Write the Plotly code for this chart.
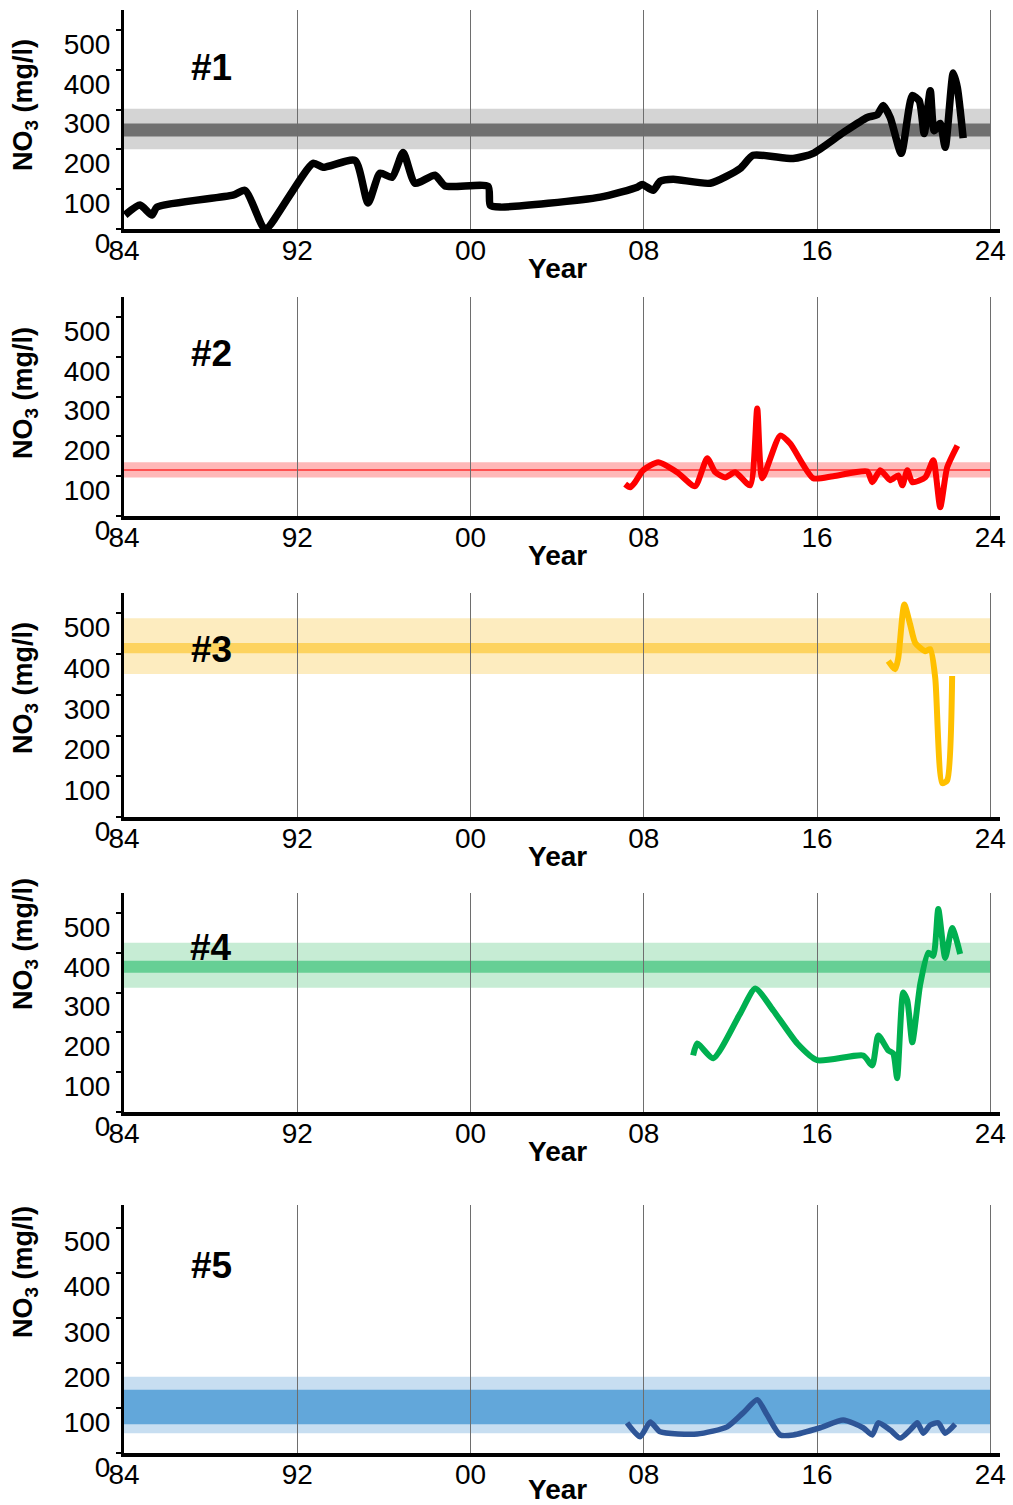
import plotly.graph_objects as go

# ---------------- data ----------------
x_tick_vals = [1984, 1992, 2000, 2008, 2016, 2024]
x_tick_text = ["84", "92", "00", "08", "16", "24"]
y_tick_vals = [0, 100, 200, 300, 400, 500]
y_tick_text = ["0", "100", "200", "300", "400", "500"]

years_1 = [1984.05, 1984.74, 1985.29, 1985.52, 1989.03, 1989.59, 1990.42, 1990.61,
           1992.73, 1993.19, 1994.67, 1995.27, 1995.82, 1996.38, 1996.89, 1997.44,
           1998.36, 1998.83, 2000.81, 2000.91, 2001.37, 2005.99, 2007.70, 2007.93,
           2008.43, 2008.76, 2009.36, 2011.07, 2012.45, 2013.05, 2014.90, 2015.82,
           2017.21, 2018.32, 2018.78, 2019.06, 2019.38, 2019.89, 2020.40, 2020.72,
           2020.95, 2021.23, 2021.41, 2021.69, 2021.92, 2022.29, 2022.48, 2022.75]
no3_1 = [35, 60, 35, 55, 85, 97, 5, 2,
         165, 155, 172, 65, 140, 130, 192, 115,
         135, 108, 107, 60, 55, 80, 105, 112,
         97, 120, 125, 115, 152, 185, 177, 190,
         242, 280, 287, 310, 280, 190, 335, 322,
         240, 347, 247, 265, 205, 392, 355, 228]

years_2 = [2007.14, 2007.37, 2007.60, 2007.97, 2008.67, 2009.54, 2010.37, 2010.93,
           2011.30, 2011.76, 2012.22, 2012.91, 2013.24, 2013.47, 2014.30, 2014.76,
           2015.82, 2016.75, 2018.32, 2018.55, 2018.92, 2019.38, 2019.75, 2019.94,
           2020.17, 2020.40, 2021.00, 2021.37, 2021.69, 2022.01, 2022.48]
no3_2 = [80, 72, 85, 115, 135, 110, 75, 145,
         110, 97, 110, 77, 270, 95, 202, 182,
         95, 100, 112, 85, 115, 90, 102, 77,
         115, 85, 97, 140, 22, 122, 177]

years_3 = [2019.29, 2019.61, 2019.75, 2020.03, 2020.30, 2020.54, 2021.00, 2021.23,
           2021.46, 2021.78, 2022.01, 2022.24]
no3_3 = [383, 363, 390, 522, 473, 427, 407, 412, 341, 83, 90, 346]

years_4 = [2010.28, 2010.47, 2011.21, 2012.45, 2013.15, 2013.98, 2015.09, 2016.01,
           2018.13, 2018.55, 2018.83, 2019.29, 2019.52, 2019.70, 2019.98, 2020.17,
           2020.40, 2020.77, 2021.14, 2021.37, 2021.60, 2021.92, 2022.24, 2022.61]
no3_4 = [142, 172, 135, 247, 310, 255, 172, 130,
         142, 117, 192, 155, 147, 85, 300, 280,
         175, 322, 400, 392, 510, 387, 462, 397]

years_5 = [2007.23, 2007.83, 2008.30, 2008.76, 2010.47, 2011.85, 2012.59, 2013.24,
           2013.70, 2014.30, 2014.90, 2016.15, 2017.21, 2018.13, 2018.55, 2018.83,
           2019.38, 2019.84, 2020.30, 2020.63, 2020.91, 2021.23, 2021.60, 2021.92,
           2022.38]
no3_5 = [67, 36, 69, 47, 42, 58, 89, 118,
         84, 40, 40, 56, 73, 56, 40, 67,
         51, 33, 51, 67, 44, 62, 67, 44,
         64]

# reference bands (light range, dark range) per site
band_light_lo = [200, 97, 351, 312, 44]
band_light_hi = [302, 135, 488, 425, 169]
band_dark_lo = [232, 113, 402, 350, 64]
band_dark_hi = [265, 118, 427, 380, 140]

site_labels = ["#1", "#2", "#3", "#4", "#5"]

# ---------------- styling / layout ----------------
W, H = 1013, 1505
FONT = "Liberation Sans, Arial, sans-serif"
line_colors = ["#000000", "#ff0000", "#ffc000", "#00b050", "#2e5597"]
line_widths = [7.5, 6, 6, 6, 5.5]
light_colors = ["#d4d4d4", "#ffb8b8", "#fdecbf", "#c6ecd4", "#c7def1"]
dark_colors = ["#707070", "#ff5050", "#fdd35f", "#66cf95", "#62a7da"]

# pixel extents of each panel (top of y axis, x-axis line)
panel_top = [10, 297, 593, 893, 1205]
panel_bot = [229, 516, 817, 1112, 1453]
title_y = [105, 393, 688, 944, 1272]
site_y = [67, 353, 650, 948, 1265]
year_y = [268, 555, 856, 1151, 1489]
x_left, x_right = 124, 1000

all_years = [years_1, years_2, years_3, years_4, years_5]
all_no3 = [no3_1, no3_2, no3_3, no3_4, no3_5]

fig = go.Figure()
shapes = []
annotations = []
layout_axes = {}

for i in range(5):
    n = "" if i == 0 else str(i + 1)
    xa, ya = "x" + n, "y" + n
    fig.add_trace(go.Scatter(
        x=all_years[i], y=all_no3[i], xaxis=xa, yaxis=ya, mode="lines",
        line=dict(color=line_colors[i], width=line_widths[i], shape="spline", smoothing=0.6),
        showlegend=False, hoverinfo="skip"))
    dom_y = [1 - panel_bot[i] / H, 1 - panel_top[i] / H]
    layout_axes["xaxis" + n] = dict(
        domain=[x_left / W, x_right / W], range=[1984, 2024.45], anchor=ya,
        tickvals=x_tick_vals, ticktext=x_tick_text, showgrid=True,
        gridcolor="#6e6e6e", gridwidth=1, showline=True, linecolor="black",
        linewidth=3.5, zeroline=False, ticks="", fixedrange=True, automargin=False,
        ticklabelstandoff=-6,
        tickfont=dict(family=FONT, size=28, color="black"))
    layout_axes["yaxis" + n] = dict(
        domain=dom_y, range=[0, 550], anchor=xa,
        tickvals=y_tick_vals, ticktext=y_tick_text, showgrid=False,
        showline=True, linecolor="black", linewidth=3, zeroline=False,
        ticks="outside", ticklen=5, tickwidth=2, tickcolor="black",
        ticklabelshift=14, fixedrange=True, automargin=False,
        tickfont=dict(family=FONT, size=28, color="black"))
    # bands
    shapes.append(dict(type="rect", xref=xa, yref=ya, x0=1984, x1=2024,
                       y0=band_light_lo[i], y1=band_light_hi[i],
                       fillcolor=light_colors[i], line=dict(width=0), layer="below"))
    shapes.append(dict(type="rect", xref=xa, yref=ya, x0=1984, x1=2024,
                       y0=band_dark_lo[i], y1=band_dark_hi[i],
                       fillcolor=dark_colors[i], line=dict(width=0), layer="below"))
    # texts
    annotations.append(dict(text="<b>NO<sub>3</sub> (mg/l)</b>", textangle=-90,
                            xref="paper", yref="paper", x=25 / W, y=1 - title_y[i] / H,
                            showarrow=False, xanchor="center", yanchor="middle",
                            font=dict(family=FONT, size=27, color="black")))
    annotations.append(dict(text="<b>" + site_labels[i] + "</b>",
                            xref="paper", yref="paper", x=211 / W, y=1 - site_y[i] / H,
                            showarrow=False, xanchor="center", yanchor="middle",
                            font=dict(family=FONT, size=37, color="black")))
    annotations.append(dict(text="<b>Year</b>",
                            xref="paper", yref="paper", x=557 / W, y=1 - year_y[i] / H,
                            showarrow=False, xanchor="center", yanchor="middle",
                            font=dict(family=FONT, size=28, color="black")))

fig.update_layout(
    width=W, height=H, margin=dict(l=0, r=0, t=0, b=0, autoexpand=False),
    paper_bgcolor="white", plot_bgcolor="white",
    shapes=shapes, annotations=annotations, showlegend=False,
    **layout_axes)

fig.write_html("out.html", config={"displayModeBar": False})
